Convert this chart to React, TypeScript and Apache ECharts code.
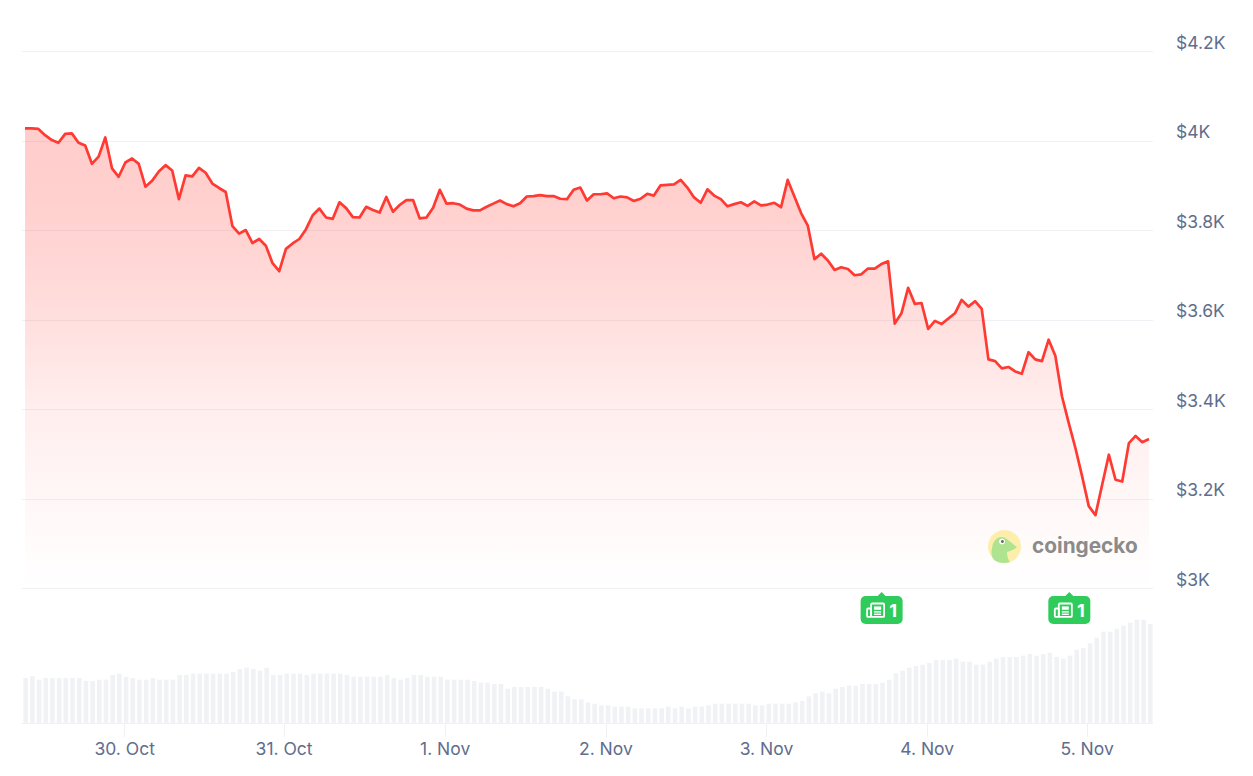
import React, { useEffect, useRef } from "react";
import * as echarts from "echarts";

const priceValues: number[] = [
  4028, 4028, 4027, 4013, 4002, 3996, 4016, 4017, 3996, 3990, 3949, 3965, 4008, 3939, 3920, 3952, 3961, 3949, 3898, 3911,
  3932, 3946, 3934, 3870, 3923, 3921, 3940, 3929, 3905, 3895, 3886, 3810, 3793, 3801, 3772, 3781, 3766, 3727, 3709, 3759,
  3771, 3781, 3803, 3834, 3849, 3829, 3826, 3863, 3850, 3830, 3829, 3853, 3846, 3840, 3875, 3842, 3857, 3868, 3868, 3827,
  3829, 3851, 3891, 3860, 3861, 3858, 3849, 3845, 3845, 3853, 3860, 3867, 3859, 3854, 3861, 3876, 3877, 3879, 3877, 3877,
  3871, 3870, 3891, 3896, 3867, 3881, 3881, 3883, 3872, 3876, 3874, 3866, 3871, 3882, 3878, 3901, 3902, 3903, 3913, 3896,
  3874, 3862, 3892, 3878, 3870, 3854, 3859, 3863, 3855, 3865, 3856, 3858, 3862, 3852, 3913, 3876, 3839, 3811, 3736, 3748,
  3733, 3712, 3718, 3714, 3700, 3702, 3715, 3715, 3725, 3731, 3592, 3615, 3672, 3636, 3638, 3580, 3598, 3591, 3603, 3615,
  3645, 3630, 3642, 3625, 3512, 3508, 3492, 3495, 3485, 3480, 3528, 3512, 3508, 3556, 3520, 3429, 3370, 3314, 3251, 3184,
  3164, 3232, 3299, 3243, 3239, 3325, 3341, 3327, 3334,
];

const volumeValues: number[] = [
  45, 46.7, 43.3, 45, 45, 45, 45, 45, 45, 42, 42, 43.3, 43.3, 48, 49.3, 46.3, 45, 43.3, 43.3, 45,
  43.3, 43.3, 43.3, 48, 48, 49.3, 49.3, 49.3, 49.3, 49.3, 49.3, 51, 54, 55.3, 54, 52.3, 55.3, 48, 48, 49.3,
  49.3, 49.3, 48, 49.3, 49.3, 49.3, 49.3, 49.3, 48, 46.3, 46.3, 46.3, 46.3, 46.3, 48, 45, 43.3, 45, 48, 48,
  46.3, 46.3, 46.3, 43.3, 43.3, 43.3, 43.3, 42, 40.3, 40.3, 39, 39, 34.3, 36, 36, 36, 36, 36, 34.3, 31.3,
  31.3, 26.7, 23.7, 23.7, 20.7, 19.3, 17.7, 17.7, 16.3, 16.3, 16.3, 14.7, 14.7, 14.7, 14.7, 14.7, 16.3, 14.7, 16.3, 14.7,
  16.3, 16.3, 17.7, 19.3, 19.3, 19.3, 19.3, 19.3, 19.3, 17.7, 17.7, 19.3, 19.3, 19.3, 19.3, 20.7, 22, 26.7, 29.7, 31.3,
  29.7, 34.3, 36, 37.3, 37.3, 39, 39, 39, 40.3, 43.3, 49.7, 52.3, 55.3, 57, 58.3, 60, 63, 63, 63, 64.3,
  61.3, 61.3, 58.3, 58.3, 61.3, 64.3, 66, 66, 66, 67.3, 69, 67.3, 69, 70.3, 66, 64.3, 67.3, 73.3, 75, 79.7,
  85.3, 91.3, 91.3, 94.3, 97.3, 100.3, 103.3, 103.3, 99,
];

const dayHours: number[] = [14.78, 38.6, 62.66, 86.67, 110.66, 134.66, 158.56];
const dayLabels: string[] = ["30. Oct", "31. Oct", "1. Nov", "2. Nov", "3. Nov", "4. Nov", "5. Nov"];
const priceTicks: number[] = [3000, 3200, 3400, 3600, 3800, 4000, 4200];
const priceLabels: string[] = ["$3K", "$3.2K", "$3.4K", "$3.6K", "$3.8K", "$4K", "$4.2K"];
const newsHours: number[] = [127.86, 155.9];
const newsCounts: number[] = [1, 1];

const FONT = "Inter, sans-serif";
const LABEL = "#5f6e8d";
const GRIDLINE = "#f0f1f5";

const GECKO =
  "M4 18 C5 11 9 7 13 7 C18 7 22 12 29 17 C26 20 22 21 19 22 C19 26 20 30 22 32 C16 34 10 33 6 30 C3 26 3 22 4 18 Z";

export default function App() {
  const ref = useRef<HTMLDivElement>(null);

  useEffect(() => {
    if (!ref.current) return;
    echarts.graphic.registerShape("gecko", echarts.graphic.extendPath(GECKO, {}));
    const chart = echarts.init(ref.current, undefined, { renderer: "svg" });

    const renderNews = (_: any, api: any) => {
      const p = api.coord([api.value(0), 113]);
      const white = "#ffffff";
      const G = "#2fcc5c";
      return {
        type: "group",
        x: p[0],
        y: p[1],
        children: [
          { type: "polygon", shape: { points: [[-4, -14], [0, -18], [4, -14]] }, style: { fill: G } },
          { type: "rect", shape: { x: -21, y: -14, width: 42, height: 28, r: 5 }, style: { fill: G } },
          { type: "rect", shape: { x: -10.5, y: -6.5, width: 13, height: 13.4, r: 1 }, style: { fill: "none", stroke: white, lineWidth: 1.8 } },
          { type: "rect", shape: { x: -14.5, y: -1.5, width: 4, height: 8.4, r: 1 }, style: { fill: "none", stroke: white, lineWidth: 1.8 } },
          { type: "rect", shape: { x: -7.5, y: -3.6, width: 7, height: 3.4, r: 0 }, style: { fill: white } },
          { type: "rect", shape: { x: -7.5, y: 1.1, width: 7, height: 1.5, r: 0 }, style: { fill: white } },
          { type: "rect", shape: { x: -7.5, y: 3.6, width: 7, height: 1.4, r: 0 }, style: { fill: white } },
          {
            type: "text",
            style: {
              x: 11.5,
              y: 0,
              text: String(api.value(1)),
              fill: white,
              font: `700 18px ${FONT}`,
              align: "center",
              verticalAlign: "middle",
            },
          },
        ],
      };
    };

    chart.setOption({
      animation: false,
      backgroundColor: "#ffffff",
      textStyle: { fontFamily: FONT },
      grid: [
        { left: 22, width: 1131, top: 51.5, height: 537 },
        { left: 22, width: 1131, top: 603, height: 120 },
      ],
      xAxis: [
        { type: "value", gridIndex: 0, min: -0.45, max: 168.6, show: false, splitLine: { show: false } },
        {
          type: "value",
          gridIndex: 1,
          min: -0.55,
          max: 168.4,
          splitLine: { show: false },
          axisLine: { show: true, onZero: false, lineStyle: { color: GRIDLINE, width: 1 } },
          axisTick: { show: true, customValues: dayHours, length: 14, lineStyle: { color: GRIDLINE, width: 1 } },
          axisLabel: {
            show: true,
            customValues: dayHours,
            margin: 16,
            color: LABEL,
            fontFamily: FONT,
            fontSize: 17.5,
            formatter: (v: number) => dayLabels[dayHours.indexOf(v)] ?? "",
          },
        },
      ],
      yAxis: [
        {
          type: "value",
          gridIndex: 0,
          position: "right",
          min: priceTicks[0],
          max: priceTicks[priceTicks.length - 1],
          interval: 200,
          axisLine: { show: false },
          axisTick: { show: false },
          splitLine: { show: true, lineStyle: { color: GRIDLINE, width: 1 } },
          axisLabel: {
            margin: 23,
            color: LABEL,
            fontFamily: FONT,
            fontSize: 17.5,
            lineHeight: 19,
            align: "left",
            verticalAlign: "bottom",
            formatter: (v: number) => priceLabels[priceTicks.indexOf(v)] ?? "",
          },
        },
        { type: "value", gridIndex: 1, min: 0, max: 120, show: false, splitLine: { show: false } },
      ],
      series: [
        {
          type: "bar",
          xAxisIndex: 1,
          yAxisIndex: 1,
          data: volumeValues.map((v, i) => [i, v]),
          barWidth: 4.6,
          itemStyle: { color: "#f1f2f6" },
          silent: true,
          z: 1,
        },
        {
          type: "line",
          xAxisIndex: 0,
          yAxisIndex: 0,
          data: priceValues.map((v, i) => [i, v]),
          showSymbol: false,
          lineStyle: { color: "#ff3a33", width: 2.7, join: "round" },
          areaStyle: {
            origin: "start",
            opacity: 1,
            color: {
              type: "linear",
              x: 0,
              y: 0,
              x2: 0,
              y2: 1,
              colorStops: [
                { offset: 0, color: "rgba(255,58,51,0.25)" },
                { offset: 0.15, color: "rgba(255,58,51,0.24)" },
                { offset: 0.286, color: "rgba(255,58,51,0.205)" },
                { offset: 0.416, color: "rgba(255,58,51,0.16)" },
                { offset: 0.61, color: "rgba(255,58,51,0.085)" },
                { offset: 0.805, color: "rgba(255,58,51,0.04)" },
                { offset: 0.937, color: "rgba(255,58,51,0.012)" },
                { offset: 1, color: "rgba(255,58,51,0)" },
              ],
            },
          },
          z: 2,
        },
        {
          type: "custom",
          xAxisIndex: 1,
          yAxisIndex: 1,
          data: newsHours.map((h, i) => [h, newsCounts[i]]),
          renderItem: renderNews,
          encode: { x: 0 },
          clip: false,
          z: 5,
        },
      ],
      graphic: [
        { type: "circle", z: 10, shape: { cx: 1004.5, cy: 546.5, r: 16.5 }, style: { fill: "#fdeeac" } },
        { type: "gecko", z: 11, x: 988, y: 530, style: { fill: "#aee38f" } },
        { type: "circle", z: 12, shape: { cx: 1002, cy: 541.5, r: 3 }, style: { fill: "#ffffff" } },
        { type: "circle", z: 13, shape: { cx: 1002.4, cy: 541.5, r: 1.5 }, style: { fill: "#6b6b6b" } },
        {
          type: "text",
          z: 12,
          x: 1032,
          y: 545.5,
          style: {
            text: "coingecko",
            fill: "#8b8b8b",
            font: "700 20.8px Inter, sans-serif",
            align: "left",
            verticalAlign: "middle",
          },
        },
      ],
    });
    return () => chart.dispose();
  }, []);

  return <div ref={ref} style={{ position: "fixed", left: 0, top: 0, width: 1253, height: 776 }} />;
}
